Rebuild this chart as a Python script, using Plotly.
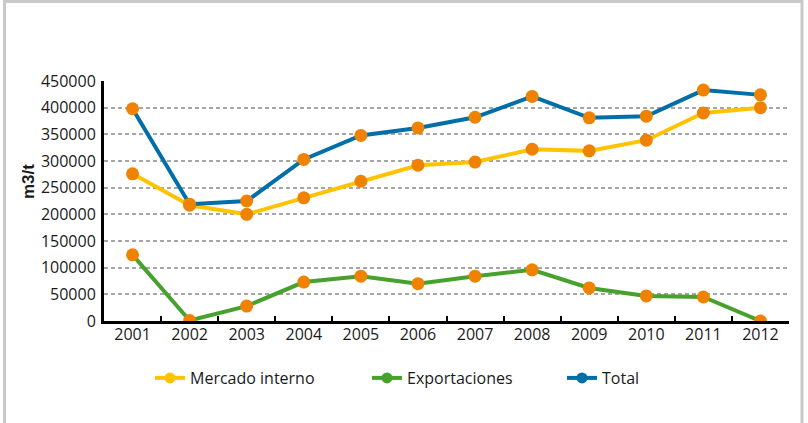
import plotly.graph_objects as go

years = ["2001", "2002", "2003", "2004", "2005", "2006", "2007", "2008", "2009", "2010", "2011", "2012"]
mercado_interno = [276000, 217000, 200000, 231000, 262000, 292000, 298000, 322000, 319000, 339000, 390000, 400000]
exportaciones = [124000, 1000, 28000, 73000, 84000, 70000, 84000, 96000, 62000, 47000, 45000, 0]
total = [398000, 219000, 225000, 303000, 348000, 362000, 382000, 421000, 381000, 384000, 433000, 424000]
y_ticks = [0, 50000, 100000, 150000, 200000, 250000, 300000, 350000, 400000, 450000]

W, H = 808, 423
L, R, T, B = 104, 19, 81, 102
PW, PH = W - L - R, H - T - B


def px(x):
    return (x - L) / PW


def py(y):
    return (H - B - y) / PH


ORANGE = "#EF8200"
series = [
    ("Mercado interno", mercado_interno, "#FFC300", "legend", 150),
    ("Exportaciones", exportaciones, "#47A12D", "legend2", 367),
    ("Total", total, "#006FA8", "legend3", 562),
]

fig = go.Figure()
for name, vals, color, leg, _ in series:
    fig.add_trace(go.Scatter(
        x=years, y=vals, name=name, mode="lines+markers",
        line=dict(color=color, width=4),
        marker=dict(color=color, size=11),
        legend=leg,
    ))
    fig.add_trace(go.Scatter(
        x=years, y=vals, mode="markers", showlegend=False,
        marker=dict(color=ORANGE, size=13), hoverinfo="skip",
    ))

font = dict(family="Open Sans, Segoe UI, sans-serif", size=16, color="#1a1a1a")
legs = {}
for name, vals, color, leg, lx in series:
    legs[leg] = dict(
        x=px(lx), y=py(378), xanchor="left", yanchor="middle",
        orientation="h", font=font, bgcolor="rgba(0,0,0,0)",
    )

fig.update_layout(
    width=W, height=H,
    margin=dict(l=L, r=R, t=T, b=B),
    paper_bgcolor="white", plot_bgcolor="white",
    font=font,
    **legs,
    xaxis=dict(
        type="category", range=[-0.5, len(years) - 0.5],
        showline=True, linecolor="black", linewidth=3,
        tickson="boundaries", ticks="inside", ticklen=5, tickwidth=2, tickcolor="black",
        showgrid=False, tickfont=font, ticklabelstandoff=-3,
    ),
    yaxis=dict(
        range=[0, 450000], tickvals=y_ticks, tickformat="d",
        showline=True, linecolor="black", linewidth=3,
        showgrid=True, gridcolor="#A6A6A6", gridwidth=2, griddash="4px,3px",
        zeroline=False, ticks="", tickfont=font, ticklabelstandoff=2,
    ),
    annotations=[dict(
        text="<b>m3/t</b>", x=px(28), y=py(182), xref="paper", yref="paper",
        textangle=-90, showarrow=False, xanchor="center", yanchor="middle",
        font=dict(family="Liberation Sans Narrow, Arial Narrow, Liberation Sans, sans-serif", size=17, color="#1a1a1a"),
    )],
    shapes=[dict(
        type="rect", xref="paper", yref="paper",
        x0=px(4.5), x1=px(802), y0=py(1.5), y1=py(445),
        line=dict(color="#C8C8C8", width=3), layer="below",
    )],
)

fig.write_html("out.html", config={"displayModeBar": False},
               post_script="document.body.style.margin='0px';")
